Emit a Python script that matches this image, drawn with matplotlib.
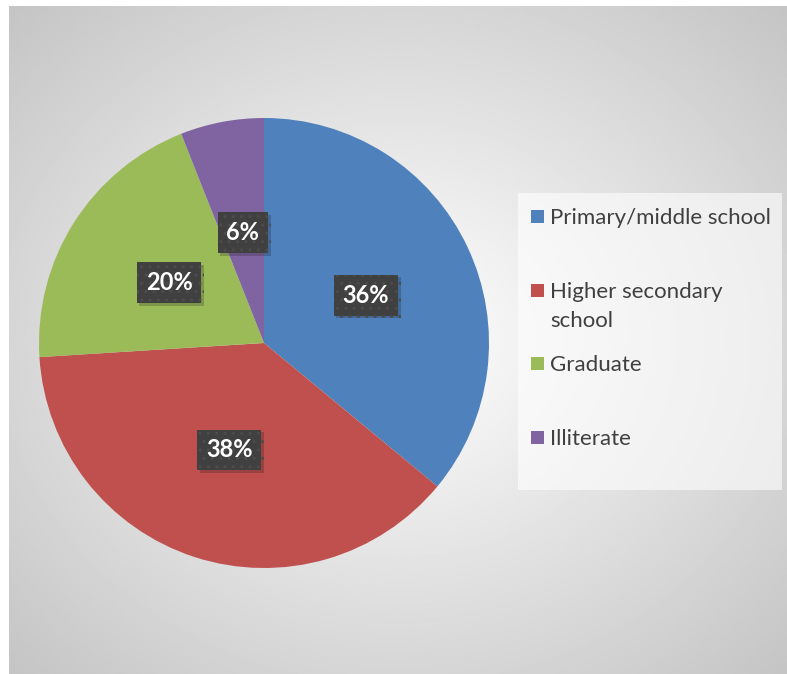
import numpy as np
import matplotlib.pyplot as plt
from matplotlib.patches import Rectangle
import matplotlib.patheffects as pe

categories = ['Primary/middle school', 'Higher secondary\nschool', 'Graduate', 'Illiterate']
shares = [36, 38, 20, 6]
colors = ['#4F81BD', '#C0504D', '#9BBB59', '#8064A2']

W, H = 787, 674
fig = plt.figure(figsize=(W / 100, H / 100), dpi=100)
fig.patch.set_facecolor('white')

# radial grey background of the chart area
bg = fig.add_axes([9 / W, 0, (W - 9) / W, (H - 6) / H], zorder=0)
yy, xx = np.mgrid[-1:1:300j, -1:1:350j]
r = np.sqrt(xx ** 2 + yy ** 2) / np.sqrt(2)
shade = 1.0 - 0.23 * r
bg.imshow(shade, cmap='gray', vmin=0, vmax=1, extent=[0, 1, 0, 1], aspect='auto', interpolation='bilinear')
bg.set_axis_off()

# pie, centre (264, 343) px, radius 225 px
cx, cy, rad = 264, 343, 225
ax = fig.add_axes([(cx - rad) / W, (H - cy - rad) / H, 2 * rad / W, 2 * rad / H], zorder=2)
wedges, texts, autotexts = ax.pie(
    shares, colors=colors, startangle=90, counterclock=False,
    autopct=lambda p: f'{p:.0f}%', pctdistance=0.5,
    textprops=dict(color='white', fontsize=17, fontweight='bold', family='Lato'),
    wedgeprops=dict(linewidth=0))
ax.set_xlim(-1, 1)
ax.set_ylim(-1, 1)
for t in autotexts:
    t.set_bbox(dict(boxstyle='square,pad=0.38', fc='#404040', ec='#4c4c4c', lw=0, hatch='..'))
    t.get_bbox_patch().set_path_effects([pe.withSimplePatchShadow(offset=(2, -2), alpha=0.22), pe.Normal()])

# legend panel
leg = fig.add_axes([0, 0, 1, 1], zorder=3)
leg.set_xlim(0, W)
leg.set_ylim(H, 0)
leg.set_axis_off()
leg.add_patch(Rectangle((518, 193), 264, 297, fc='white', alpha=0.6, lw=0))
for i, (lab, col) in enumerate(zip(categories, colors)):
    base = 224 + 73.7 * i
    leg.add_patch(Rectangle((531, base - 14), 13, 13, fc=col, lw=0))
    for j, line in enumerate(lab.split('\n')):
        leg.text(550, base + 29 * j, line, fontsize=16, family='Lato', color='#404040',
                 va='baseline', ha='left')

fig.savefig('out.png', dpi=100)
